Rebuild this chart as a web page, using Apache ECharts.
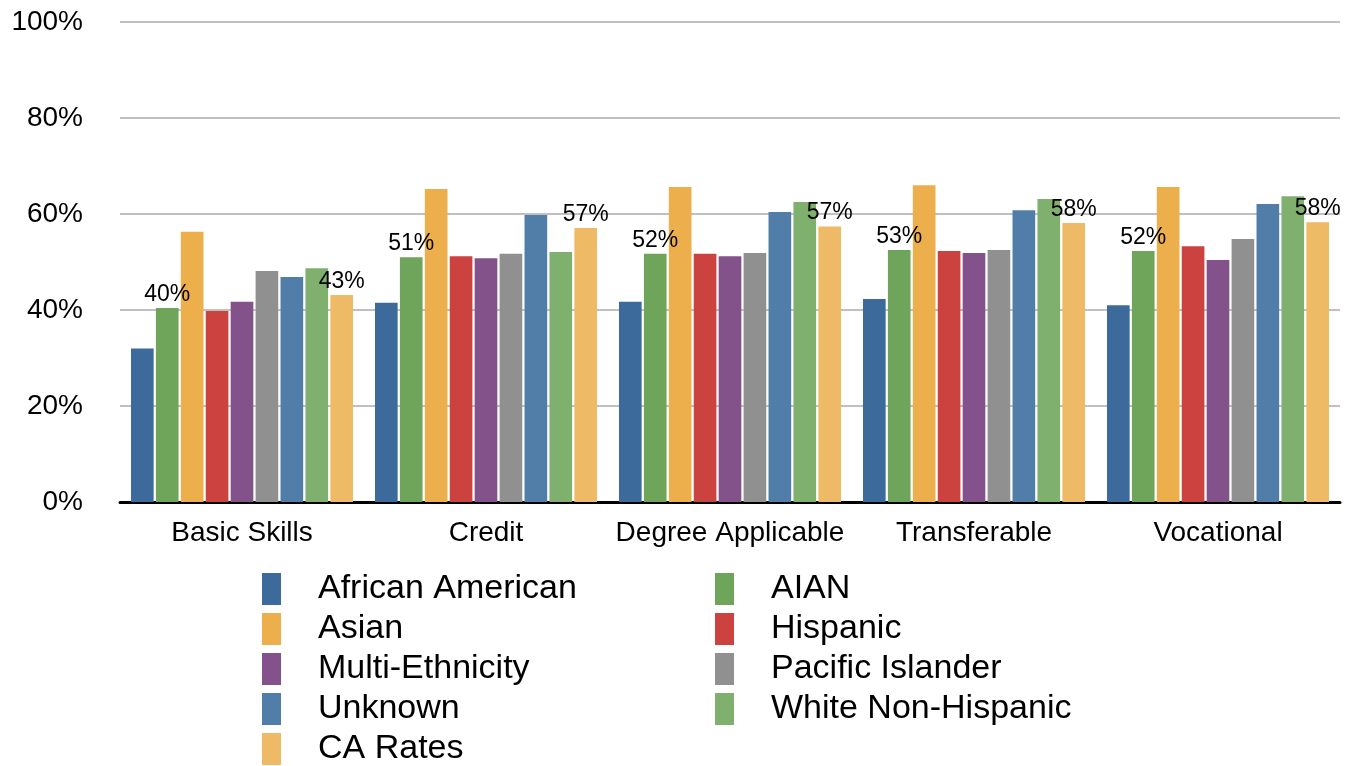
<!DOCTYPE html>
<html>
<head>
<meta charset="utf-8">
<script src="https://cdn.jsdelivr.net/npm/echarts@6/dist/echarts.min.js"></script>
<style>
  html, body { margin: 0; padding: 0; background: #fff; }
  #chart { width: 1370px; height: 766px; }
</style>
</head>
<body>
<div id="chart"></div>
<script>
const categories = ["Basic Skills", "Credit", "Degree Applicable", "Transferable", "Vocational"];
const yTicks = [0, 20, 40, 60, 80, 100];

const africanAmerican = [32.0, 41.5, 41.7, 42.3, 41.0];
const aian = [40.4, 51.0, 51.7, 52.5, 52.3];
const asian = [56.3, 65.2, 65.6, 66.0, 65.6];
const hispanic = [39.8, 51.2, 51.7, 52.3, 53.3];
const multiEthnicity = [41.7, 50.8, 51.2, 51.9, 50.4];
const pacificIslander = [48.1, 51.7, 51.9, 52.5, 54.8];
const unknown = [46.9, 59.8, 60.4, 60.8, 62.1];
const whiteNonHispanic = [48.7, 52.1, 62.5, 63.1, 63.7];
const caRates = [43.1, 57.1, 57.4, 58.1, 58.3];

const seriesDefs = [
  { name: "African American", data: africanAmerican, color: "#3c6a9b" },
  { name: "AIAN", data: aian, color: "#6ea55b", label: true },
  { name: "Asian", data: asian, color: "#ecaf4b" },
  { name: "Hispanic", data: hispanic, color: "#cb423f" },
  { name: "Multi-Ethnicity", data: multiEthnicity, color: "#83528a" },
  { name: "Pacific Islander", data: pacificIslander, color: "#8f908f" },
  { name: "Unknown", data: unknown, color: "#517ea9" },
  { name: "White Non-Hispanic", data: whiteNonHispanic, color: "#80b06d" },
  { name: "CA Rates", data: caRates, color: "#eeba66", label: true },
];

const FONT = "'Liberation Sans', Arial, Helvetica, sans-serif";

const chart = echarts.init(document.getElementById("chart"));

// two hand-placed legend columns, like the original
const legendCommon = {
  orient: "vertical",
  top: 572,
  height: 260,
  padding: 0,
  itemWidth: 19,
  itemHeight: 32,
  itemGap: 6,
  icon: "rect",
  textStyle: {
    fontFamily: FONT,
    fontSize: 34,
    color: "#000",
    padding: [0, 0, 0, 32],
  },
};

chart.setOption({
  animation: false,
  textStyle: { fontFamily: FONT },
  grid: {
    left: 120,
    right: 30,
    top: 22,
    bottom: 264,
  },
  legend: [
    Object.assign({}, legendCommon, {
      left: 262,
      data: ["African American", "Asian", "Multi-Ethnicity", "Unknown", "CA Rates"],
    }),
    Object.assign({}, legendCommon, {
      left: 715,
      data: ["AIAN", "Hispanic", "Pacific Islander", "White Non-Hispanic"],
    }),
  ],
  xAxis: {
    type: "category",
    data: categories,
    axisLine: { lineStyle: { color: "#000", width: 3 } },
    axisTick: { show: false },
    axisLabel: {
      interval: 0,
      color: "#000",
      fontSize: 28,
      fontFamily: FONT,
      margin: 17,
    },
  },
  yAxis: {
    type: "value",
    min: yTicks[0],
    max: yTicks[yTicks.length - 1],
    interval: 20,
    axisLine: { show: false },
    axisTick: { show: false },
    axisLabel: {
      color: "#000",
      fontSize: 28,
      fontFamily: FONT,
      margin: 37,
      formatter: (v) => v + "%",
    },
    splitLine: { lineStyle: { color: "#c0c0c0", width: 2 } },
  },
  series: seriesDefs.map((s) => ({
    name: s.name,
    type: "bar",
    data: s.data,
    barGap: "10%",
    barCategoryGap: "9%",
    itemStyle: { color: s.color },
    label: {
      show: !!s.label,
      position: "top",
      distance: 2,
      color: "#000",
      fontSize: 23,
      fontFamily: FONT,
      formatter: (p) => Math.round(p.value) + "%",
    },
  })),
});
</script>
</body>
</html>
